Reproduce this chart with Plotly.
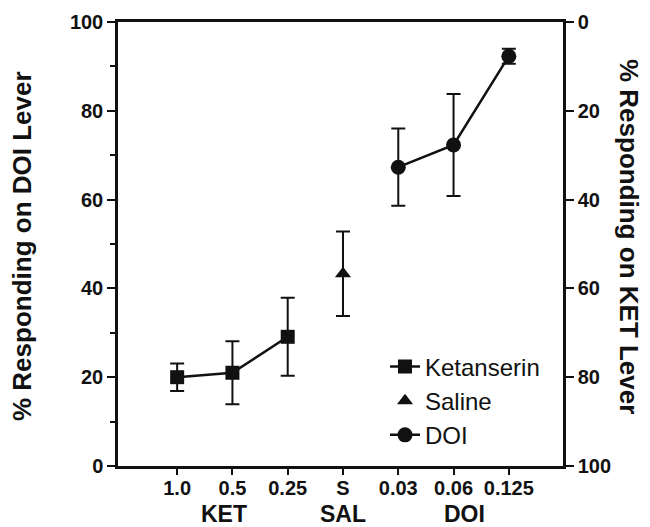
import plotly.graph_objects as go

categories = ["1.0", "0.5", "0.25", "S", "0.03", "0.06", "0.125"]

ket_x = ["1.0", "0.5", "0.25"]
ket_y = [20.0, 21.0, 29.1]
ket_err = [3.1, 7.1, 8.8]

sal_x = ["S"]
sal_y = [43.3]
sal_err = [9.5]

doi_x = ["0.03", "0.06", "0.125"]
doi_y = [67.3, 72.3, 92.3]
doi_err = [8.7, 11.5, 1.7]

left_ticks = [0, 20, 40, 60, 80, 100]
right_ticks = [0, 20, 40, 60, 80, 100]

group_labels = ["KET", "SAL", "DOI"]

FONT = "Liberation Sans, Arial, Helvetica, sans-serif"
black = "#111111"

# the page body adds an 8px offset; compensate in the margins
OFF = 8
PL, PR, PT, PB = 118 - OFF, 563 - OFF, 22 - OFF, 466 - OFF
W, H = 650, 527

fig = go.Figure()

def err(vals):
    return dict(type="data", array=vals, visible=True, color=black, thickness=2, width=7)

fig.add_trace(go.Scatter(
    x=ket_x, y=ket_y, mode="lines+markers", name="Ketanserin",
    line=dict(color=black, width=2.5),
    marker=dict(symbol="square", size=14, color=black),
    error_y=err(ket_err)))
fig.add_trace(go.Scatter(
    x=sal_x, y=sal_y, mode="markers", name="Saline",
    marker=dict(symbol="triangle-up", size=14, color=black),
    error_y=err(sal_err)))
fig.add_trace(go.Scatter(
    x=doi_x, y=doi_y, mode="lines+markers", name="DOI",
    line=dict(color=black, width=2.5),
    marker=dict(symbol="circle", size=15, color=black),
    error_y=err(doi_err)))
# invisible trace to anchor the right axis
fig.add_trace(go.Scatter(x=[categories[0]], y=[None], yaxis="y2",
                         showlegend=False, hoverinfo="skip", mode="markers"))

tickfont = dict(family=FONT, size=20, color=black, weight="bold")

fig.update_layout(
    width=W, height=H,
    margin=dict(l=PL, r=W - PR, t=PT, b=H - PB, autoexpand=False),
    paper_bgcolor="white", plot_bgcolor="white",
    showlegend=True,
    legend=dict(x=0.6, y=0.274, xanchor="left", yanchor="top",
                font=dict(family=FONT, size=24, color=black),
                bgcolor="rgba(0,0,0,0)", tracegroupgap=0),
    xaxis=dict(type="category", categoryorder="array", categoryarray=categories,
               range=[-1.07, 6.98], showline=True, linecolor=black, linewidth=2.5,
               mirror=True, ticks="outside", ticklen=6, tickwidth=2, tickcolor=black,
               ticklabelstandoff=-4,
               tickfont=tickfont, showgrid=False, zeroline=False, automargin=False),
    yaxis=dict(range=[0, 100], tickvals=left_ticks, showline=True, linecolor=black,
               linewidth=2.5, ticks="outside", ticklen=8, tickwidth=2, tickcolor=black,
               minor=dict(dtick=10, ticks="outside", ticklen=5, tickwidth=2, tickcolor=black),
               tickfont=tickfont, showgrid=False, zeroline=False, automargin=False),
    yaxis2=dict(overlaying="y", side="right", range=[100, 0], tickvals=right_ticks,
                showline=True, linecolor=black, linewidth=2.5, ticks="outside",
                ticklen=8, tickwidth=2, tickcolor=black, tickfont=tickfont,
                showgrid=False, zeroline=False, automargin=False),
)

pw, ph = 445, 444
# axis titles
fig.add_annotation(text="% Responding on DOI Lever", xref="paper", yref="paper",
                   x=(22 - 118) / pw, y=(466 - 246) / ph, textangle=-90, showarrow=False,
                   xanchor="center", yanchor="middle",
                   font=dict(family=FONT, size=26, color=black, weight="bold"))
fig.add_annotation(text="% Responding on KET Lever", xref="paper", yref="paper",
                   x=(629 - 118) / pw, y=(466 - 236) / ph, textangle=90, showarrow=False,
                   xanchor="center", yanchor="middle",
                   font=dict(family=FONT, size=26, color=black, weight="bold"))

group_x = [0.85, 3.0, 5.2]
for lbl, gx in zip(group_labels, group_x):
    fig.add_annotation(text=lbl, xref="x", yref="paper", x=gx, y=(466 - 514) / ph,
                       showarrow=False, xanchor="center", yanchor="middle",
                       font=dict(family=FONT, size=23, color=black, weight="bold"))

fig.write_html("out.html")
